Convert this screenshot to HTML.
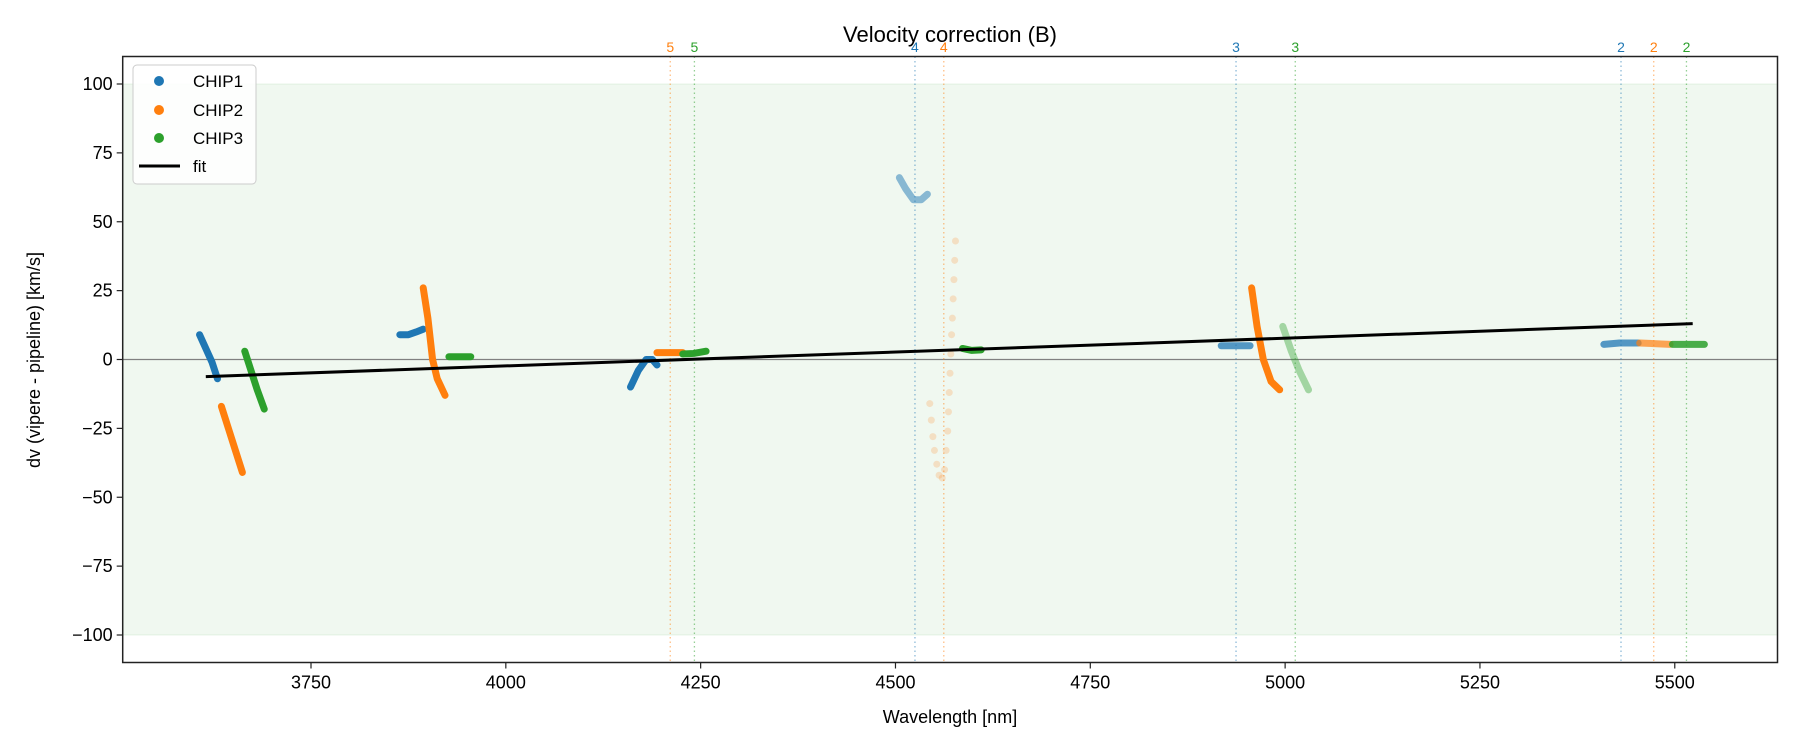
<!DOCTYPE html>
<html><head><meta charset="utf-8"><style>
body{margin:0;background:#fff}
svg{display:block;font-family:"Liberation Sans","DejaVu Sans",sans-serif}
</style></head><body>
<svg id="chart" width="1800" height="750" viewBox="0 0 1800 750">
<text x="950" y="42" font-size="22" text-anchor="middle">Velocity correction (B)</text>
<g id="plot"></g>
<g id="axes"></g>
<text x="950" y="723" font-size="18" text-anchor="middle">Wavelength [nm]</text>
<text transform="translate(40,360) rotate(-90)" font-size="18" text-anchor="middle">dv (vipere - pipeline) [km/s]</text>
<g>
<rect x="133" y="65" width="123" height="119" rx="4" fill="#fff" fill-opacity="0.85" stroke="#ccc"/>
<g><circle cx="159" cy="81" r="5" fill="#1f77b4"/><text x="193" y="87" font-size="17">CHIP1</text></g>
<g><circle cx="159" cy="110" r="5" fill="#ff7f0e"/><text x="193" y="116" font-size="17">CHIP2</text></g>
<g><circle cx="159" cy="138" r="5" fill="#2ca02c"/><text x="193" y="144" font-size="17">CHIP3</text></g>
<g><line x1="139" y1="166" x2="180" y2="166" stroke="#000" stroke-width="3"/><text x="193" y="172" font-size="17">fit</text></g>
</g>
</svg>
<script>
const xTicks=[3750,4000,4250,4500,4750,5000,5250,5500];
const yTicks=[-100,-75,-50,-25,0,25,50,75,100];
const chip1Segments=[
 [[3607,9],[3615,4],[3623,-1],[3630,-7]],
 [[3864,9],[3875,9],[3885,10],[3894,11]],
 [[4160,-10],[4170,-4],[4180,0],[4188,0],[4194,-2]],
 [[4505,66],[4513,62],[4523,58],[4533,58],[4541,60]],
 [[4918,5],[4955,5]],
 [[5409,5.5],[5429,6],[5453,6]]];
const chip1Alpha=[1,1,1,0.5,0.75,0.75];
const chip2Segments=[
 [[3635,-17],[3644,-25],[3653,-33],[3662,-41]],
 [[3894,26],[3900,15],[3906,0],[3912,-7],[3922,-13]],
 [[4194,2.5],[4227,2.5]],
 [[4957,26],[4964,12],[4972,0],[4982,-8],[4993,-11]],
 [[5455,6],[5494,5.5]]];
const chip2Alpha=[1,1,1,1,0.7];
const chip2Faded=[[4544,-16],[4546,-22],[4548,-28],[4550,-33],[4553,-38],[4556,-42],[4560,-43],[4563,-40],[4565,-33],[4567,-26],[4568,-19],[4569,-12],[4570,-5],[4571,2],[4572,9],[4573,15],[4574,22],[4575,29],[4576,36],[4577,43]];
const chip3Segments=[
 [[3665,3],[3673,-4],[3681,-11],[3690,-18]],
 [[3927,1],[3955,1]],
 [[4227,2],[4241,2.2],[4257,3]],
 [[4586,4],[4598,3.3],[4610,3.5]],
 [[4997,12],[5008,3],[5018,-4],[5030,-11]],
 [[5497,5.5],[5538,5.5]]];
const chip3Alpha=[1,1,1,1,0.4,0.85];
const fitX=[3615,5523];
const fitY=[-6.2,13];
const markerLabels=['5','5','4','4','3','3','2','2','2'];
const markerX=[4211,4242,4525,4562,4937,5013,5431,5473,5515];
const markerChip=[2,3,1,2,1,3,1,2,3];

const C={1:'#1f77b4',2:'#ff7f0e',3:'#2ca02c'};
const L=122.7,R=1777.5,T=56.5,B=662.5;
const X=x=>311+(x-3750)*0.7793;
const Y=y=>359.5-y*2.755;
const NS='http://www.w3.org/2000/svg';
const plot=document.getElementById('plot'),axes=document.getElementById('axes');
function mk(t,a,p){const e=document.createElementNS(NS,t);for(const k in a)e.setAttribute(k,a[k]);p.appendChild(e);return e;}
let e=mk('rect',{x:L,y:Y(100),width:R-L,height:Y(-100)-Y(100),fill:'#2ca02c','fill-opacity':0.07,stroke:'#2ca02c','stroke-opacity':0.1},plot);


e=mk('line',{x1:L,x2:R,y1:Y(0),y2:Y(0),stroke:'#808080','stroke-width':1.3},plot);


markerX.forEach((mx,i)=>{
 const g=mk('g',{},plot);
 
 
 mk('line',{x1:X(mx),x2:X(mx),y1:T,y2:B,stroke:C[markerChip[i]],'stroke-opacity':0.5,'stroke-width':1.3,'stroke-dasharray':'1.5,3'},g);
 const t=mk('text',{x:X(mx),y:52,'font-size':14,'text-anchor':'middle',fill:C[markerChip[i]]},g);t.textContent=markerLabels[i];
});
function drawSegs(segs,alphas,chip){
 segs.forEach((s,i)=>{
  const p=mk('polyline',{points:s.map(q=>X(q[0])+','+Y(q[1])).join(' '),fill:'none',stroke:C[chip],'stroke-opacity':alphas[i],'stroke-width':7,'stroke-linecap':'round','stroke-linejoin':'round'},plot);
  
  
 });
}
drawSegs(chip1Segments,chip1Alpha,1);
drawSegs(chip2Segments,chip2Alpha,2);
drawSegs(chip3Segments,chip3Alpha,3);
chip2Faded.forEach((q,i)=>{
 const c=mk('circle',{cx:X(q[0]),cy:Y(q[1]),r:3.5,fill:'#ff7f0e','fill-opacity':0.2},plot);
 
 
});
e=mk('line',{x1:X(fitX[0]),y1:Y(fitY[0]),x2:X(fitX[1]),y2:Y(fitY[1]),stroke:'#000','stroke-width':3},plot);


e=mk('rect',{x:L,y:T,width:R-L,height:B-T,fill:'none',stroke:'#222','stroke-width':1.5},axes);


xTicks.forEach(v=>{
 const g=mk('g',{},axes);
 
 
 mk('line',{x1:X(v),x2:X(v),y1:B,y2:B+6,stroke:'#222','stroke-width':1.2},g);
 const t=mk('text',{x:X(v),y:B+26,'font-size':18,'text-anchor':'middle'},g);t.textContent=v;
});
yTicks.forEach(v=>{
 const g=mk('g',{},axes);
 
 
 mk('line',{x1:L-6,x2:L,y1:Y(v),y2:Y(v),stroke:'#222','stroke-width':1.2},g);
 const t=mk('text',{x:L-10,y:Y(v)+6,'font-size':18,'text-anchor':'end'},g);t.textContent=v<0?'\u2212'+(-v):v;
});
</script>
</body></html>
